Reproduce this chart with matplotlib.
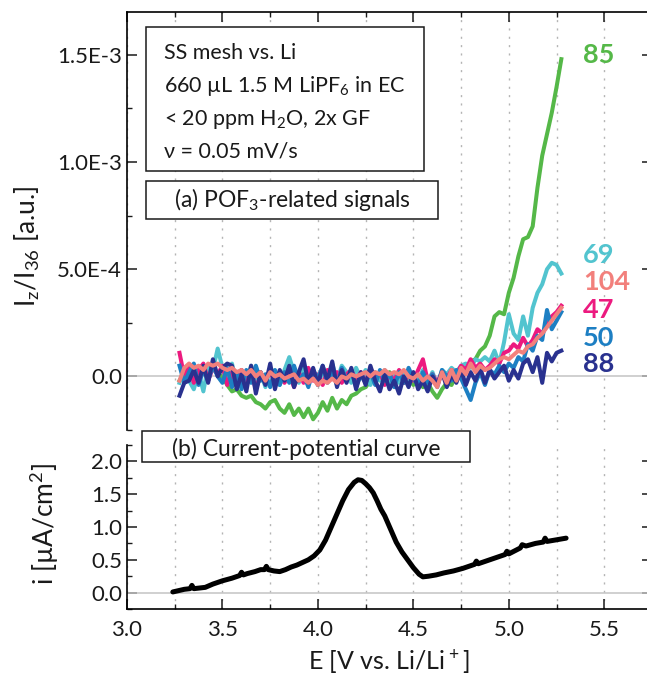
"""
POF3-related mass traces and the matching current-potential curve
for an SS mesh vs. Li cell (1.5 M LiPF6 in EC).
"""

import matplotlib
matplotlib.use("Agg")
import matplotlib.pyplot as plt
from matplotlib.patches import Rectangle
from matplotlib.ticker import MultipleLocator, FormatStrFormatter

# --- potential grid of the MS traces [V vs. Li/Li+] ---
E_ms = [3.275, 3.300, 3.325, 3.350, 3.375, 3.400, 3.425, 3.450, 3.475, 3.500,
        3.525, 3.550, 3.575, 3.600, 3.625, 3.650, 3.675, 3.700, 3.725, 3.750,
        3.775, 3.800, 3.825, 3.850, 3.875, 3.900, 3.925, 3.950, 3.975, 4.000,
        4.025, 4.050, 4.075, 4.100, 4.125, 4.150, 4.175, 4.200, 4.225, 4.250,
        4.275, 4.300, 4.325, 4.350, 4.375, 4.400, 4.425, 4.450, 4.475, 4.500,
        4.525, 4.550, 4.575, 4.600, 4.625, 4.650, 4.675, 4.700, 4.725, 4.750,
        4.775, 4.800, 4.825, 4.850, 4.875, 4.900, 4.925, 4.950, 4.975, 5.000,
        5.025, 5.050, 5.075, 5.100, 5.125, 5.150, 5.175, 5.200, 5.225, 5.250,
        5.275]

# normalised ion currents I_z/I_36, in units of 1e-4
mz85 = [-0.2, 0.2, 0.1, 0.4, 0.2, 0.5, 0.3, 0.4, 0.1, 0.0,
        -0.4, -0.7, -0.6, -0.9, -1.0, -0.9, -1.2, -1.3, -1.5, -1.2,
        -1.1, -1.5, -1.7, -1.3, -1.8, -1.5, -1.9, -1.5, -2.0, -1.7,
        -1.2, -1.6, -1.0, -1.5, -1.1, -1.3, -0.9, -0.8, -0.6, -0.5,
        -0.2, -0.1, 0.1, -0.1, 0.2, -0.2, 0.1, -0.3, 0.0, -0.4,
        -0.1, -0.5, -0.3, -0.7, -1.0, -0.6, -0.3, -0.4, 0.1, 0.3,
        0.4, 0.7, 0.8, 1.2, 1.4, 1.9, 2.8, 3.0, 2.9, 3.9,
        4.6, 5.6, 6.4, 6.5, 7.0, 8.8, 10.3, 11.3, 12.3, 13.5,
        14.8]
mz69 = [-0.3, 0.4, -0.2, -0.6, 0.2, -0.7, 0.5, 0.3, 1.3, 0.4,
        -0.3, 0.6, -0.4, 0.3, -0.2, 0.5, -0.3, 0.2, -0.5, 0.4,
        0.1, -0.4, 0.3, 0.9, 0.2, -0.3, 0.4, -0.2, 0.3, -0.4,
        0.2, -0.1, 0.6, -0.2, 0.5, 0.2, -0.3, 0.4, -0.1, 0.3,
        -0.4, 0.2, -0.2, 0.3, -0.5, 0.1, -0.3, 0.2, -0.4, 0.1,
        -0.2, 0.3, -0.3, 0.2, -0.4, 0.3, 0.1, 0.4, 0.2, 0.5,
        0.6, 0.4, 0.8, 0.7, 0.9, 0.7, 1.2, 0.6, 1.6, 2.9,
        2.0, 1.7, 2.8, 1.9, 3.2, 3.9, 4.3, 5.0, 5.3, 5.2,
        4.8]
mz47 = [1.1, 0.0, 0.5, -0.3, 0.3, 0.6, -0.2, 0.4, 0.1, 0.5,
        -0.4, 0.2, -0.5, 0.3, -0.3, 0.2, -0.6, 0.1, -0.2, 0.3,
        -0.4, 0.2, -0.3, 0.1, -0.5, 0.2, -0.3, 0.4, -0.2, 0.1,
        -0.4, 0.3, -0.1, 0.2, -0.3, 0.1, 0.3, -0.2, 0.2, -0.3,
        0.4, -0.1, 0.2, -0.4, 0.1, -0.2, 0.3, -0.3, 0.1, -0.2,
        0.3, 0.8, -0.2, 0.1, -0.3, 0.2, -0.1, 0.3, 0.1, 0.5,
        0.3, 0.8, 0.4, 0.6, 0.3, 0.5, 0.8, 0.6, 1.1, 1.2,
        1.5, 1.3, 1.8, 1.4, 1.7, 2.2, 2.0, 2.4, 2.8, 3.0,
        3.3]
mz50 = [0.5, -0.3, 0.2, 0.6, -0.4, 0.3, -0.2, 0.5, 0.0, -0.3,
        0.4, -0.5, 0.2, -0.6, 0.3, -0.3, 0.5, -0.2, 0.1, -0.5,
        0.3, -0.4, 0.2, -0.3, 0.5, -0.2, 0.1, -0.5, 0.3, -0.1,
        0.5, -0.3, 0.2, -0.4, 0.4, -0.2, 0.3, -0.5, 0.1, -0.3,
        0.2, -0.4, 0.3, -0.2, 0.1, -0.5, 0.2, -0.3, 0.4, -0.1,
        -0.4, 0.2, -0.3, 0.1, -0.5, 0.3, 0.0, -0.2, 0.3, -0.1,
        -0.6, -1.1, -0.3, 0.2, -0.4, 0.3, 0.1, 0.5, 0.2, 0.6,
        0.4, 0.9, 0.7, 1.5, 1.2, 1.9, 1.7, 3.1, 2.2, 2.6,
        3.0]
mz88 = [-0.9, -0.3, -0.2, 0.3, -0.3, 0.5, -0.3, 0.8, 0.0, 0.4,
        0.6, 0.5, -0.6, 0.1, -0.7, 0.5, -0.8, 0.2, -0.4, 0.6,
        -0.6, 0.3, -0.2, 0.5, -0.5, 0.2, 0.8, -0.3, 0.4, -0.4,
        0.5, -0.2, 0.7, -0.5, 0.3, -0.3, 0.4, -0.6, 0.2, -0.4,
        0.5, -0.2, -0.7, 0.1, -0.6, -0.2, -0.8, 0.0, -0.5, 0.2,
        -0.6, -0.2, -0.7, 0.0, -0.4, 0.2, -0.5, 0.1, -0.3, 0.3,
        -0.4, 0.2, -0.2, 0.4, -0.3, 0.3, -0.1, 0.2, 0.5, -0.2,
        0.3, -0.1, 0.6, 0.8, 0.2, 0.9, -0.3, 1.1, 0.7, 1.1,
        1.2]
mz104 = [-0.2, 0.4, 0.6, 0.4, 0.5, 0.3, 0.6, 0.5, 0.6, 0.4,
         0.3, 0.4, 0.2, 0.3, 0.1, 0.3, 0.0, 0.2, -0.2, 0.2,
         0.0, 0.1, -0.1, 0.0, 0.1, -0.2, -0.1, -0.3, -0.1, -0.4,
         -0.2, -0.3, -0.1, -0.3, 0.0, -0.1, 0.1, 0.0, 0.1, 0.2,
         0.0, 0.2, 0.1, 0.3, 0.1, 0.2, 0.1, 0.3, 0.0, -0.1,
         0.1, -0.2, 0.0, -0.2, -0.5, 0.2, -0.3, 0.3, -0.2, 0.4,
         0.1, 0.6, 0.2, 0.5, 0.3, 0.4, 0.6, 0.8, 0.9, 0.8,
         1.0, 1.2, 1.1, 1.4, 1.5, 1.8, 2.0, 2.3, 2.6, 2.9,
         3.2]

# drawing order: first entry at the bottom
trace_labels = ["85", "69", "47", "50", "88", "104"]
trace_values = [mz85, mz69, mz47, mz50, mz88, mz104]
trace_colors = ["#55b848", "#52c4cf", "#ec1a7f", "#1d7fc3", "#29318f", "#f2807c"]

# m/z tags at the right-hand end (y in units of 1e-4)
tag_labels = ["85", "69", "104", "47", "50", "88"]
tag_y = [15.0, 5.67, 4.41, 3.11, 1.81, 0.56]
tag_colors = ["#55b848", "#52c4cf", "#f2807c", "#ec1a7f", "#1d7fc3", "#29318f"]

ms_yticks = [0.0, 5e-4, 1e-3, 1.5e-3]
ms_yticklabels = ["0.0", "5.0E-4", "1.0E-3", "1.5E-3"]

# --- linear sweep, current density [uA/cm2] ---
E_cv = [3.24, 3.27, 3.30, 3.33, 3.34, 3.35, 3.38, 3.41, 3.45, 3.50,
        3.55, 3.59, 3.60, 3.61, 3.63, 3.67, 3.70, 3.72, 3.73, 3.74,
        3.77, 3.80, 3.83, 3.86, 3.89, 3.92, 3.95, 3.98, 4.01, 4.04,
        4.07, 4.10, 4.13, 4.16, 4.19, 4.21, 4.23, 4.25, 4.27, 4.29,
        4.31, 4.33, 4.35, 4.38, 4.41, 4.44, 4.47, 4.50, 4.53, 4.55,
        4.58, 4.62, 4.66, 4.71, 4.76, 4.82, 4.83, 4.84, 4.88, 4.93,
        4.98, 4.99, 5.00, 5.04, 5.06, 5.07, 5.09, 5.14, 5.18, 5.19,
        5.20, 5.24, 5.30]
i_cv = [0.01, 0.03, 0.05, 0.06, 0.11, 0.06, 0.07, 0.08, 0.13, 0.18,
        0.22, 0.26, 0.31, 0.27, 0.29, 0.32, 0.35, 0.35, 0.40, 0.35,
        0.33, 0.32, 0.35, 0.39, 0.42, 0.46, 0.50, 0.56, 0.65, 0.80,
        1.00, 1.20, 1.40, 1.57, 1.68, 1.72, 1.71, 1.66, 1.60, 1.52,
        1.40, 1.27, 1.17, 0.97, 0.77, 0.62, 0.50, 0.38, 0.28, 0.24,
        0.25, 0.27, 0.30, 0.33, 0.37, 0.43, 0.48, 0.44, 0.48, 0.53,
        0.58, 0.63, 0.59, 0.65, 0.68, 0.73, 0.71, 0.75, 0.77, 0.83,
        0.78, 0.80, 0.83]

GRID = "#b4b4b4"
INK = "#1a1a1a"

plt.rcParams["font.family"] = ["Lato", "DejaVu Sans"]
plt.rcParams["mathtext.fontset"] = "custom"
plt.rcParams["mathtext.rm"] = "Lato"
plt.rcParams["mathtext.default"] = "regular"
plt.rcParams["axes.linewidth"] = 1.2

W, H = 647, 677
fig = plt.figure(figsize=(W / 100, H / 100), dpi=100)


def fig_box(x0, y0, x1, y1):
    """pixel box (top-left origin) -> [left, bottom, width, height] fraction"""
    return [x0 / W, 1 - y1 / H, (x1 - x0) / W, (y1 - y0) / H]


def fxy(x, y):
    return x / W, 1 - y / H


ax1 = fig.add_axes(fig_box(127, 12, 652, 430))
ax2 = fig.add_axes(fig_box(127, 445, 652, 609))

for ax in (ax1, ax2):
    ax.set_xlim(3.0, 5.75)
    ax.xaxis.set_major_locator(MultipleLocator(0.5))
    ax.xaxis.set_minor_locator(MultipleLocator(0.25))
    ax.grid(True, axis="x", which="both", color=GRID, lw=1.0,
            linestyle=(0, (1.5, 4.5)), zorder=0)
    ax.axhline(0, color="#c4c4c4", lw=1.1, zorder=1)
    ax.tick_params(which="both", direction="in", colors=INK,
                   labelsize=16, left=True, right=True)
    ax.tick_params(which="major", length=7, width=1.1)
    ax.tick_params(which="minor", length=3.5, width=1.0)
    ax.set_axisbelow(True)

# (a) mass traces
for lab, vals, col in zip(trace_labels, trace_values, trace_colors):
    ax1.plot(E_ms, [v * 1e-4 for v in vals], color=col, lw=2.9,
             solid_joinstyle="round", zorder=3)

for lab, y, col in zip(tag_labels, tag_y, tag_colors):
    ax1.text(5.39, y * 1e-4, lab, color=col, fontsize=19.5, fontweight="bold",
             ha="left", va="center")

ax1.set_ylim(-2.5e-4, 1.7e-3)
ax1.set_yticks(ms_yticks)
ax1.set_yticklabels(ms_yticklabels)
ax1.yaxis.set_minor_locator(MultipleLocator(2.5e-4))
ax1.spines["bottom"].set_visible(False)
ax1.tick_params(axis="x", which="both", bottom=False, top=True,
                labelbottom=False)
ax1.set_ylabel("I$_z$/I$_{36}$ [a.u.]", fontsize=19, color=INK)
ax1.yaxis.set_label_coords(-0.162, 0.44)

# (b) current-potential curve
ax2.plot(E_cv, i_cv, color="black", lw=3.6, solid_joinstyle="round",
         solid_capstyle="round", zorder=3)
ax2.set_ylim(-0.25, 2.25)
ax2.yaxis.set_major_locator(MultipleLocator(0.5))
ax2.yaxis.set_minor_locator(MultipleLocator(0.25))
ax2.yaxis.set_major_formatter(FormatStrFormatter("%.1f"))
ax2.xaxis.set_major_formatter(FormatStrFormatter("%.1f"))
ax2.spines["top"].set_visible(False)
ax2.tick_params(axis="x", which="both", top=False, bottom=True, pad=8)
ax2.set_ylabel("i [µA/cm$^2$]", fontsize=19, color=INK)
ax2.yaxis.set_label_coords(-0.125, 0.52)
ax2.set_xlabel("E [V vs. Li/Li$^+$]", fontsize=18, color=INK, labelpad=5)

# annotation boxes
boxes = [(146, 27, 424, 171), (146, 181, 438, 219), (142, 431, 470, 462)]
for x0, y0, x1, y1 in boxes:
    fig.add_artist(Rectangle(fxy(x0, y1), (x1 - x0) / W, (y1 - y0) / H,
                             transform=fig.transFigure, facecolor="white",
                             edgecolor=INK, lw=1.1, zorder=5))

info_lines = ["SS mesh vs. Li",
              "660 µL 1.5 M LiPF$_6$ in EC",
              "< 20 ppm H$_2$O, 2x GF",
              "ν = 0.05 mV/s"]
for k, line in enumerate(info_lines):
    fig.text(*fxy(164, 59 + 33 * k), line, fontsize=15.5, color=INK,
             ha="left", va="baseline", zorder=6)

fig.text(*fxy(292, 207), "(a) POF$_3$-related signals", fontsize=16.5,
         color=INK, ha="center", va="baseline", zorder=6)
fig.text(*fxy(306, 456), "(b) Current-potential curve", fontsize=16.5,
         color=INK, ha="center", va="baseline", zorder=6)

fig.savefig("out.png", dpi=100)
